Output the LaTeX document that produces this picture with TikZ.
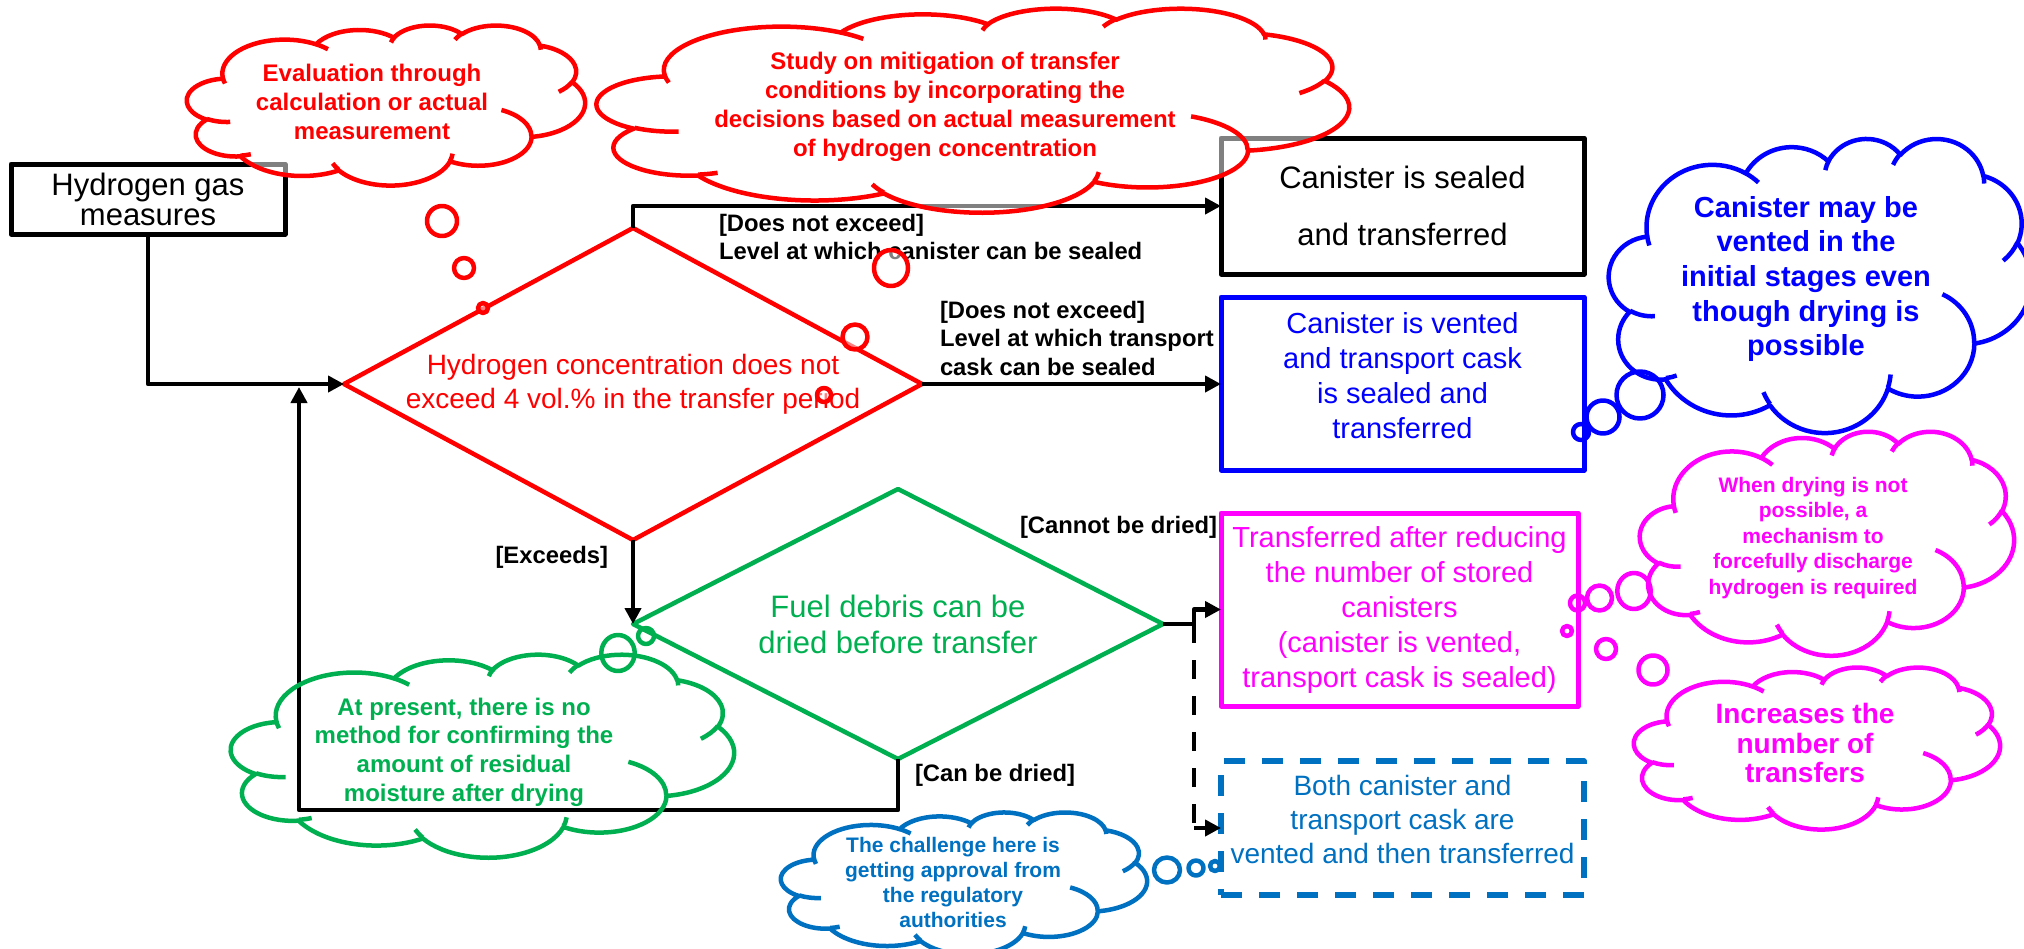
\documentclass[tikz,border=0pt]{standalone}
\usepackage{fontspec}
\setmainfont{Liberation Sans}
\usetikzlibrary{shapes.geometric,arrows.meta}

\definecolor{pgreen}{HTML}{00B050}
\definecolor{pblue}{HTML}{0070C0}
\definecolor{pmag}{HTML}{FF00FF}

% Cloud outline built from elliptic arcs in a 432 x 432 frame.
% Arc angles are given as visual angles and converted to parametric ones.
\makeatletter
\newcommand\cloudarcdef[5]{%
  \pgfmathsetmacro\cl@a{#4}%
  \pgfmathsetmacro\cl@b{#4+#5}%
  \pgfmathsetmacro\cl@s{atan2(#2*sin(\cl@a),#3*cos(\cl@a))}%
  \pgfmathsetmacro\cl@e{atan2(#2*sin(\cl@b),#3*cos(\cl@b))}%
  \pgfmathsetmacro\cl@d{\cl@e-\cl@s}%
  \pgfmathsetmacro\cl@d{\cl@d-360*round((\cl@d-(#5))/360)}%
  \expandafter\xdef\csname clS#1\endcsname{\cl@s}%
  \expandafter\xdef\csname clD#1\endcsname{\cl@d}%
  \expandafter\xdef\csname clX#1\endcsname{#2}%
  \expandafter\xdef\csname clY#1\endcsname{#3}%
}
\makeatother

\cloudarcdef{m1}{67.53}{91.90}{-190.4875}{123.7805}
\cloudarcdef{m2}{53.33}{72.67}{-144.1024}{89.9452}
\cloudarcdef{m3}{43.65}{59.45}{-145.8079}{99.7230}
\cloudarcdef{m4}{48.57}{65.95}{-130.9861}{117.2417}
\cloudarcdef{m5}{53.33}{72.73}{-78.7089}{109.0269}
\cloudarcdef{m6}{67.75}{92.20}{-46.2673}{130.2690}
\cloudarcdef{m7}{57.85}{78.67}{0.6250}{114.0333}
\cloudarcdef{m8}{67.52}{92.15}{22.4516}{115.1726}
\cloudarcdef{m9}{77.20}{105.43}{66.2426}{75.7110}
\cloudarcdef{m10}{43.60}{59.18}{-274.9421}{146.7356}
\cloudarcdef{m11}{43.45}{59.45}{-246.8285}{152.5189}
\cloudarcdef{t1}{43.45}{59.45}{86.7420}{26.4295}
\cloudarcdef{t2}{43.60}{59.18}{73.6105}{11.4475}
\cloudarcdef{t3}{67.52}{92.15}{137.6242}{14.0811}
\cloudarcdef{t4}{67.52}{92.15}{6.4533}{15.9984}
\cloudarcdef{t5}{57.85}{78.67}{-70.2924}{70.9174}
\cloudarcdef{t6}{53.33}{72.73}{30.3180}{27.7515}
\cloudarcdef{t7}{48.57}{65.95}{-13.7443}{14.8589}
\cloudarcdef{t8}{48.57}{65.95}{-149.1815}{18.1954}
\cloudarcdef{t9}{43.65}{59.45}{-163.4943}{17.6864}
\cloudarcdef{t10}{67.53}{91.90}{-66.7070}{12.3194}
\cloudarcdef{t11}{67.53}{91.90}{157.6544}{11.8582}

\newcommand\clarc[1]{arc[start angle=\csname clS#1\endcsname,delta angle=\csname clD#1\endcsname,x radius=\csname clX#1\endcsname,y radius=\csname clY#1\endcsname]}

% #1,#2 top-left corner, #3 width, #4 height, #5 path style
\newcommand\pptcloud[5]{%
  \begin{scope}[shift={(#1,#2)},x=#3/432*1pt,y=-#4/432*1pt]
    \path[#5] (39,143.7) \clarc{m1} \clarc{m2} \clarc{m3} \clarc{m4} \clarc{m5}
      \clarc{m6} \clarc{m7} \clarc{m8} \clarc{m9} \clarc{m10} \clarc{m11} -- cycle;
    \path[#5,fill=none] (46.93,261.77) \clarc{t1} (69.28,348.99) \clarc{t2}
      (164.78,390.90) \clarc{t3} (288.27,347.51) \clarc{t4}
      (341.29,229.54) \clarc{t5} (417.98,153.54) \clarc{t6}
      (383.24,54.26) \clarc{t7} (290.78,39.52) \clarc{t8}
      (221.41,47.20) \clarc{t9} (140.00,51.92) \clarc{t10}
      (41.27,157.89) \clarc{t11};
  \end{scope}}

% invisible depth, used to lift a text block inside its box
\newcommand\liftby[1]{\rule[-#1]{0pt}{#1}}

\tikzset{
  every node/.style={inner sep=0pt, outer sep=0pt},
  conn/.style={line width=4.5pt, -{Triangle[length=16pt,width=16pt]}},
  plainline/.style={line width=4.5pt},
  dashline/.style={line width=4.5pt, dash pattern=on 19pt off 17pt},
  box/.style={rectangle, draw, line width=5pt, align=center},
  decision/.style={diamond, draw, line width=4.5pt},
  lbl/.style={font=\fontsize{23.8}{28.5}\selectfont\bfseries, align=left},
  ctext/.style={align=center},
  redcloud/.style={draw=red, line width=4.5pt, fill=white, fill opacity=0.5},
  bluecloud/.style={draw=blue, line width=4.5pt},
  greencloud/.style={draw=pgreen, line width=4.5pt},
  magcloud/.style={draw=pmag, line width=4.5pt},
  steelcloud/.style={draw=pblue, line width=4.5pt},
}

\begin{document}
\begin{tikzpicture}[x=1pt, y=-1pt, line join=round]
\useasboundingbox (0,0) rectangle (2024,948);

% ---- process boxes and decisions
\node[box, minimum width=274pt, minimum height=70pt,
      font=\fontsize{31}{30}\selectfont] (hgm) at (148,199) {Hydrogen gas\\measures};

\node[decision, draw=red, minimum width=578pt, minimum height=312pt] (d1) at (633,384) {};
\node[ctext, text=red, font=\fontsize{28}{34}\selectfont] (d1t) at (d1.center)
  {Hydrogen concentration does not\\exceed 4 vol.\% in the transfer period};

\node[decision, draw=pgreen, minimum width=530pt, minimum height=270pt] (d2) at (898,624) {};
\node[ctext, text=pgreen, font=\fontsize{31}{36}\selectfont] (d2t) at (d2.center)
  {Fuel debris can be\\dried before transfer};

\node[box, minimum width=363pt, minimum height=136pt,
      font=\fontsize{31}{57}\selectfont] (sealed) at (1402.5,206) {Canister is sealed\\and transferred};
\node[box, draw=blue, text=blue, minimum width=363pt, minimum height=173pt,
      font=\fontsize{29}{35}\selectfont] (vented) at (1402.5,383.5)
  {Canister is vented\\and transport cask\\is sealed and\\transferred\liftby{16pt}};
\node[box, draw=pmag, text=pmag, minimum width=357pt, minimum height=193pt,
      font=\fontsize{29}{35}\selectfont] (reduce) at (1399.5,609.5)
  {Transferred after reducing\\the number of stored\\canisters\\(canister is vented,\\transport cask is sealed)};
\node[box, draw=pblue, text=pblue, line width=5.5pt, dash pattern=on 21pt off 17pt,
      minimum width=363pt, minimum height=134pt,
      font=\fontsize{28}{34}\selectfont] (both) at (1402.5,828)
  {Both canister and\\transport cask are\\vented and then transferred\liftby{18pt}};

% ---- connectors
\coordinate (split) at (1194,624);
\coordinate (loopB) at (898,810);
\coordinate (loopC) at (299,810);
\coordinate (merge) at (299,387);

\draw[conn] (hgm.south) |- (d1.west);
\draw[conn] (d1.north) |- (sealed.west);
\draw[conn] (d1.east) -- (d1.east -| vented.west);
\draw[conn] (d1.south) -- (d2.west);
\draw[plainline] (d2.east) -- (split);
\draw[conn] (split) |- (reduce.west);
\draw[dashline] (split) -- (split |- both.west);
\draw[conn] (split |- both.west) -- (both.west);
\draw[conn] (d2.south) -- (loopB) -- (loopC) -- (merge);

% ---- branch labels
\node[lbl, anchor=west] (lbA) at (719,237) {[Does not exceed]\\Level at which canister can be sealed};
\node[lbl, anchor=west] (lbB) at (940,338) {[Does not exceed]\\Level at which transport\\cask can be sealed};
\node[lbl, anchor=east] (lbC) at (608,557) {[Exceeds]};
\node[lbl, anchor=east] (lbD) at (1217,527) {[Cannot be dried]};
\node[lbl, anchor=west] (lbE) at (915,775) {[Can be dried]};

% ---- red comment clouds
\pptcloud{187}{25}{398}{160}{redcloud}
\draw[redcloud] (442,221) circle[radius=15];
\draw[redcloud] (464,268) circle[radius=10];
\draw[redcloud] (483,308) circle[radius=5];
\node[ctext, text=red, font=\fontsize{24}{29}\selectfont\bfseries] (c1t) at (372,102)
  {Evaluation through\\calculation or actual\\measurement};

\pptcloud{597}{8}{752}{204}{redcloud}
\draw[redcloud] (891,268) circle[x radius=17, y radius=18];
\draw[redcloud] (855,337) circle[radius=12.5];
\draw[redcloud] (824,395) circle[radius=7];
\node[ctext, text=red, font=\fontsize{24}{29}\selectfont\bfseries] (c2t) at (945,107)
  {Study on mitigation of transfer\\conditions by incorporating the\\decisions based on actual measurement\\of hydrogen concentration};

% ---- blue comment cloud
\pptcloud{1609}{138}{422}{294}{bluecloud}
\draw[bluecloud] (1640,395) circle[radius=23.5];
\draw[bluecloud] (1603,417) circle[radius=16.5];
\draw[bluecloud] (1581,432) circle[radius=8];
\node[ctext, text=blue, font=\fontsize{29}{34.7}\selectfont\bfseries] (c3t) at (1806,279)
  {Canister may be\\vented in the\\initial stages even\\though drying is\\possible};

% ---- magenta comment clouds
\pptcloud{1640}{431}{374}{224}{magcloud}
\draw[magcloud] (1634,591) circle[x radius=16.7, y radius=18];
\draw[magcloud] (1599.5,598) circle[radius=12.5];
\draw[magcloud] (1577.5,603) circle[radius=7.5];
\node[ctext, text=pmag, font=\fontsize{21}{25.5}\selectfont\bfseries] (c4t) at (1813,538)
  {When drying is not\\possible, a\\mechanism to\\forcefully discharge\\hydrogen is required};

\pptcloud{1634}{667}{366}{162}{magcloud}
\draw[magcloud] (1567,631) circle[radius=5];
\draw[magcloud] (1606,649) circle[radius=10];
\draw[magcloud] (1653,670) circle[radius=14.5];
\node[ctext, text=pmag, font=\fontsize{28}{29.5}\selectfont\bfseries] (c5t) at (1805,743)
  {Increases the\\number of\\transfers};

% ---- green comment cloud
\pptcloud{231}{654}{503}{203}{greencloud}
\draw[greencloud] (618,653) circle[x radius=16.7, y radius=18];
\draw[greencloud] (646,636) circle[radius=8];
\node[ctext, text=pgreen, font=\fontsize{24}{28.7}\selectfont\bfseries] (c6t) at (464,752)
  {At present, there is no\\method for confirming the\\amount of residual\\moisture after drying};

% ---- steel blue comment cloud
\pptcloud{781}{812}{366}{142}{steelcloud}
\draw[steelcloud] (1167,870) circle[x radius=13, y radius=12.5];
\draw[steelcloud] (1196,868) circle[radius=7.5];
\draw[steelcloud] (1215,866) circle[radius=5];
\node[ctext, text=pblue, font=\fontsize{21}{25}\selectfont\bfseries] (c7t) at (953,882)
  {The challenge here is\\getting approval from\\the regulatory\\authorities};

\end{tikzpicture}
\end{document}
